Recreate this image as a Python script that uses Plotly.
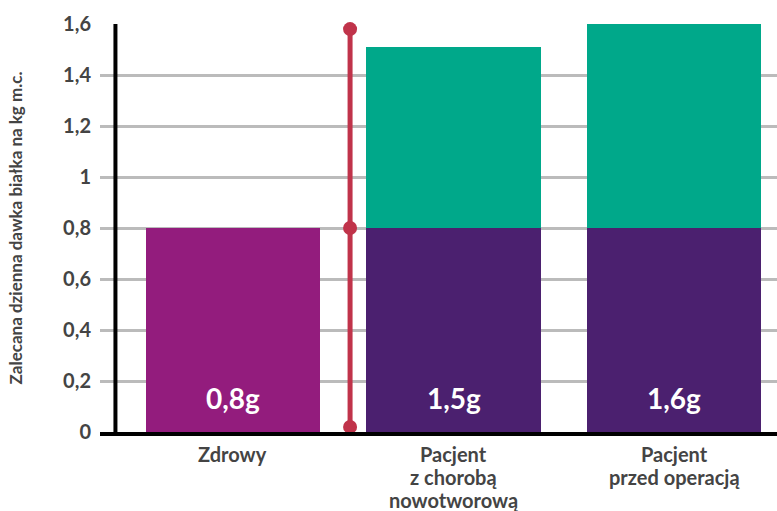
import plotly.graph_objects as go

# ---- data ----
categories = ["Zdrowy", "Pacjent<br>z chorobą<br>nowotworową", "Pacjent<br>przed operacją"]
base_values = [0.8, 0.8, 0.8]
total_values = [0.8, 1.51, 1.6]
value_labels = ["0,8g", "1,5g", "1,6g"]
range_values = [0.02, 0.8, 1.58]
y_ticks = [0, 0.2, 0.4, 0.6, 0.8, 1.0, 1.2, 1.4, 1.6]
y_tick_labels = ["0", "0,2", "0,4", "0,6", "0,8", "1", "1,2", "1,4", "1,6"]
y_title = "Zalecana dzienna dawka białka na kg m.c."

# ---- style ----
MAGENTA = "#931C7D"
PURPLE = "#4B206F"
GREEN = "#00A88A"
RED = "#C0334A"
GRID = "#BBBBBB"
TEXT = "#444444"
FONT = "Lato"

xpos = list(range(len(categories)))
extra_values = [t - b for t, b in zip(total_values, base_values)]
base_colors = [MAGENTA] + [PURPLE] * (len(categories) - 1)
range_x = 0.531
yaxis_line_x = -0.533

fig = go.Figure()
fig.add_trace(go.Bar(
    x=xpos, y=base_values, marker=dict(color=base_colors, line=dict(width=0)),
    width=0.79, hoverinfo="skip",
))
fig.add_trace(go.Bar(
    x=xpos[1:], y=extra_values[1:], marker=dict(color=GREEN, line=dict(width=0)),
    width=0.79, hoverinfo="skip",
))
fig.add_trace(go.Scatter(
    x=[range_x] * len(range_values), y=range_values, mode="lines+markers",
    line=dict(color=RED, width=5), marker=dict(color=RED, size=14),
    cliponaxis=False, hoverinfo="skip",
))

for xi, lab in zip(xpos, value_labels):
    fig.add_annotation(x=xi, y=0.133, text=lab, showarrow=False,
                       font=dict(family=FONT, size=28, color="white", weight="bold"),
                       xanchor="center", yanchor="middle")

# category labels below the axis, one annotation per line (tight line spacing)
LINE_STEP = 22.8
FIRST_SHIFT = -22
for xi, cat in zip(xpos, categories):
    for i, line in enumerate(cat.split("<br>")):
        fig.add_annotation(x=xi, y=0, yref="y", text=line, showarrow=False,
                           font=dict(family=FONT, size=20, color=TEXT, weight="bold"),
                           xanchor="center", yanchor="middle",
                           yshift=FIRST_SHIFT - i * LINE_STEP, borderpad=0)

fig.add_shape(type="line", xref="x", yref="y", x0=yaxis_line_x, x1=yaxis_line_x,
              y0=0, y1=1.6, line=dict(color="black", width=4), layer="above")

fig.update_layout(
    barmode="stack",
    showlegend=False,
    width=777, height=511,
    margin=dict(l=100, r=0, t=24, b=79, autoexpand=False),
    plot_bgcolor="white", paper_bgcolor="white",
    font=dict(family=FONT, color=TEXT),
    bargap=0,
    xaxis=dict(
        range=[-0.603, 2.467], tickvals=xpos, showticklabels=False,
        showgrid=False, zeroline=False, showline=True, linecolor="black", linewidth=4,
        ticks="", automargin=False,
    ),
    yaxis=dict(
        range=[0, 1.6], tickvals=y_ticks, ticktext=y_tick_labels,
        showgrid=True, gridcolor=GRID, gridwidth=3, zeroline=False, showline=False,
        ticks="", tickfont=dict(family=FONT, size=20, color=TEXT, weight="bold"),
        ticklabelstandoff=8, automargin=False,
        title=dict(text=y_title, font=dict(family=FONT, size=17, color=TEXT, weight="bold"),
                   standoff=36),
    ),
)

fig.write_html("out.html")
